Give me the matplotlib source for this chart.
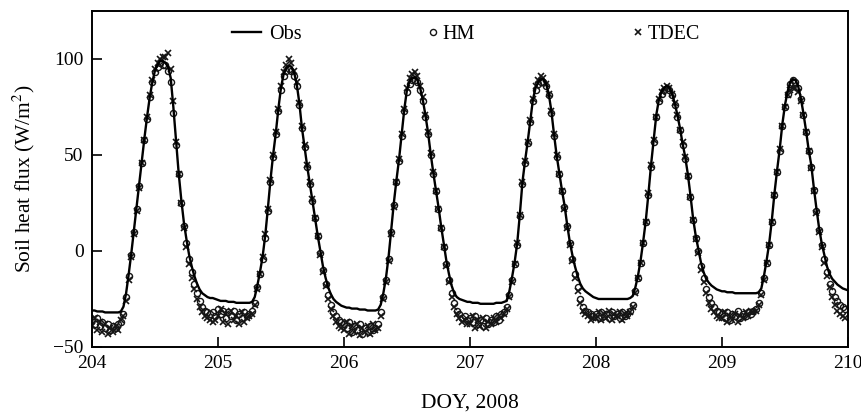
import numpy as np
import matplotlib

matplotlib.use("Agg")
import matplotlib.pyplot as plt  # noqa: E402

# half-hourly soil heat flux (W/m2), 48 values per day, DOY 204-209 (2008)
obs_204 = [-31, -31, -31.5, -31.5, -31.5, -32, -32, -32, -32, -32, -32, -31.5,
           -29, -22, -12, -1, 11, 23, 35, 47, 59, 70, 80, 88,
           94, 97, 99, 99, 98, 96, 90, 75, 58, 41, 27, 15,
           6, -2, -8, -13, -17, -20, -22, -23, -24, -24.5, -24.5, -25]
obs_205 = [-25.5, -26, -26, -26, -26.5, -26.5, -26.5, -27, -27, -27, -27, -27,
           -27, -26.5, -24, -18, -11, -3, 8, 22, 37, 50, 61, 74,
           85, 92, 95.5, 96.5, 96, 93, 87, 77, 64, 54, 44, 35,
           26, 17, 8, 0, -8, -14, -19, -22.5, -25, -26.5, -27.5, -28.5]
obs_206 = [-29, -29.5, -29.5, -30, -30, -30, -30.5, -30.5, -30.5, -31, -31, -31,
           -31, -30.5, -28, -22, -14, -3, 11, 25, 37, 48, 61, 74,
           84, 88.5, 90, 90.5, 89, 85, 79, 71, 62, 51, 41, 32,
           23, 13, 4, -5, -12, -18, -22, -24, -25, -25.5, -26, -26.5]
obs_207 = [-26.5, -27, -27, -27, -27.5, -27.5, -27.5, -27.5, -27.5, -27.5, -27, -27,
           -27, -26.5, -26, -21, -14, -6, 4, 19, 36, 47, 57, 68,
           79, 85, 88, 89.5, 89.5, 87, 82, 73, 61, 50, 41, 32,
           24, 14, 5, -2, -8, -13, -17, -19.5, -21, -22, -23, -24]
obs_208 = [-24.5, -25, -25, -25, -25, -25, -25, -25, -25, -25, -25, -25,
           -25, -24.5, -23.5, -19, -13, -5, 5, 16, 30, 45, 58, 71,
           79, 83, 85, 86, 85, 82, 77, 71, 64, 56, 49, 40,
           29, 17, 8, 1, -6, -11, -14.5, -16.5, -18, -19, -20, -20.5]
obs_209 = [-21, -21, -21.5, -21.5, -21.5, -22, -22, -22, -22, -22, -22, -22,
           -22, -22, -21.5, -19.5, -13, -5, 4, 16, 30, 42, 53, 66,
           76, 83, 88, 89.5, 89, 86, 80, 72, 63, 53, 45, 33,
           22, 12, 4, -2, -8, -12, -14.5, -16, -17.5, -18.5, -19.5, -20]
obs_end = [-20.5]  # value at DOY 210.0

hm_204 = [-36, -38, -35, -39, -37, -40, -38, -41, -39, -40, -38, -37,
          -33, -24, -13, -2, 10, 22, 34, 46, 58, 69, 80, 88,
          93, 96, 98, 97, 97, 94, 88, 72, 55, 40, 25, 13,
          4, -4, -11, -17, -22, -26, -29, -31, -32, -33, -32, -34]
hm_205 = [-30, -33, -31, -35, -32, -34, -31, -36, -33, -35, -32, -34,
          -33, -31, -27, -19, -12, -4, 7, 21, 36, 49, 61, 73,
          84, 91, 94, 95, 94, 91, 86, 76, 64, 54, 44, 35,
          26, 17, 8, -1, -10, -17, -23, -28, -32, -34, -36, -37]
hm_206 = [-38, -40, -37, -42, -39, -41, -38, -43, -40, -42, -39, -41,
          -40, -38, -32, -24, -15, -4, 10, 24, 36, 47, 60, 73,
          83, 87, 89, 89, 88, 84, 78, 70, 61, 50, 40, 31,
          22, 12, 2, -7, -15, -22, -27, -31, -33, -35, -34, -36]
hm_207 = [-35, -37, -34, -38, -36, -39, -35, -38, -36, -37, -34, -36,
          -33, -32, -29, -23, -15, -7, 3, 18, 35, 46, 56, 67,
          78, 84, 87, 88, 88, 86, 81, 72, 60, 49, 40, 31,
          23, 13, 4, -4, -12, -19, -25, -29, -31, -32, -33, -34]
hm_208 = [-33, -35, -32, -34, -33, -35, -32, -34, -33, -35, -32, -34,
          -33, -31, -28, -21, -14, -6, 4, 15, 29, 44, 57, 70,
          78, 82, 84, 85, 84, 81, 76, 70, 63, 55, 48, 39,
          28, 16, 7, 0, -8, -14, -20, -24, -27, -29, -31, -32]
hm_209 = [-33, -35, -32, -36, -33, -34, -31, -35, -33, -34, -32, -33,
          -31, -30, -27, -22, -14, -6, 3, 15, 29, 41, 52, 65,
          75, 82, 87, 89, 88, 85, 79, 71, 62, 52, 44, 32,
          21, 11, 3, -4, -11, -17, -21, -24, -26, -28, -29, -30]

tdec_204 = [-39, -35, -41, -37, -42, -38, -43, -40, -42, -39, -41, -36,
            -34, -26, -15, -3, 9, 21, 33, 46, 58, 70, 81, 89,
            95, 98, 100, 101, 101, 103, 95, 78, 57, 40, 25, 12,
            2, -7, -14, -20, -25, -29, -32, -34, -35, -36, -37, -36]
tdec_205 = [-34, -30, -37, -33, -38, -31, -36, -34, -38, -32, -37, -35,
            -34, -33, -28, -20, -12, -3, 9, 22, 37, 50, 62, 74,
            86, 93, 97, 100, 98, 94, 88, 77, 65, 55, 45, 36,
            27, 17, 8, -2, -11, -18, -25, -30, -34, -37, -39, -40]
tdec_206 = [-41, -37, -43, -39, -42, -38, -44, -40, -42, -39, -43, -38,
            -41, -40, -34, -25, -16, -5, 9, 23, 36, 48, 61, 74,
            85, 90, 92, 93, 91, 86, 80, 71, 62, 51, 41, 31,
            22, 12, 2, -8, -16, -24, -29, -33, -35, -37, -36, -38]
tdec_207 = [-38, -34, -40, -36, -39, -35, -40, -37, -38, -35, -37, -34,
            -35, -33, -30, -24, -16, -7, 4, 19, 36, 47, 57, 68,
            79, 86, 89, 91, 90, 87, 82, 73, 61, 50, 40, 31,
            22, 12, 3, -5, -14, -21, -27, -31, -33, -34, -36, -35]
tdec_208 = [-35, -32, -36, -33, -35, -31, -36, -33, -34, -32, -36, -33,
            -34, -32, -29, -22, -14, -6, 4, 15, 30, 45, 58, 70,
            79, 83, 85, 86, 85, 82, 77, 71, 63, 57, 49, 39,
            28, 16, 6, -1, -10, -16, -22, -27, -30, -32, -34, -35]
tdec_209 = [-35, -32, -37, -34, -36, -33, -37, -34, -35, -32, -34, -31,
            -32, -31, -28, -23, -15, -6, 3, 15, 29, 41, 53, 65,
            75, 81, 84, 85, 85, 83, 78, 71, 62, 52, 43, 31,
            20, 10, 2, -6, -13, -19, -24, -28, -31, -33, -34, -35]

obs = np.array(obs_204 + obs_205 + obs_206 + obs_207 + obs_208 + obs_209 + obs_end)
hm = np.array(hm_204 + hm_205 + hm_206 + hm_207 + hm_208 + hm_209)
tdec = np.array(tdec_204 + tdec_205 + tdec_206 + tdec_207 + tdec_208 + tdec_209)
doy = 204 + np.arange(len(obs)) / 48.0  # half-hour steps

plt.rcParams["font.family"] = ["Liberation Serif", "DejaVu Serif"]
plt.rcParams["mathtext.fontset"] = "stix"

fig = plt.figure(figsize=(8.62, 4.16), dpi=100)
ax = fig.add_axes([0.1067, 0.1659, 0.877, 0.8077])

mk = "#151515"
l_obs, = ax.plot(doy, obs, color="black", lw=1.7, zorder=3)
l_hm, = ax.plot(doy[:-1], hm, ls="none", marker="o", ms=4.4, mfc="none",
                mec=mk, mew=1.0, zorder=2)
l_td, = ax.plot(doy[:-1], tdec, ls="none", marker="x", ms=4.8, mec=mk,
                mew=1.2, zorder=2)

ax.set_xlim(204, 210)
ax.set_ylim(-50, 125)
ax.set_xticks(range(204, 211))
ax.set_yticks([-50, 0, 50, 100])
ax.set_yticklabels(["\u221250", "0", "50", "100"])
ax.tick_params(direction="in", length=7, width=1.2, labelsize=14, pad=6)
for s in ax.spines.values():
    s.set_linewidth(1.4)

ax.set_xlabel("DOY, 2008", fontsize=15.5, labelpad=15)
ax.set_ylabel("Soil heat flux (W/m$^2$)", fontsize=15.5, labelpad=12)

kw = dict(frameon=False, fontsize=14.5, borderpad=0, borderaxespad=0,
          loc="center left")
leg1 = ax.legend([l_obs], ["Obs"], handlelength=1.45, handletextpad=0.4,
                 bbox_to_anchor=(0.185, 0.929), **kw)
ax.add_artist(leg1)
leg2 = ax.legend([l_hm], ["HM"], handlelength=0.55, handletextpad=0.2,
                 bbox_to_anchor=(0.444, 0.929), **kw)
ax.add_artist(leg2)
ax.legend([l_td], ["TDEC"], handlelength=0.55, handletextpad=0.2,
          bbox_to_anchor=(0.715, 0.929), **kw)

fig.savefig("out.png", dpi=100)
